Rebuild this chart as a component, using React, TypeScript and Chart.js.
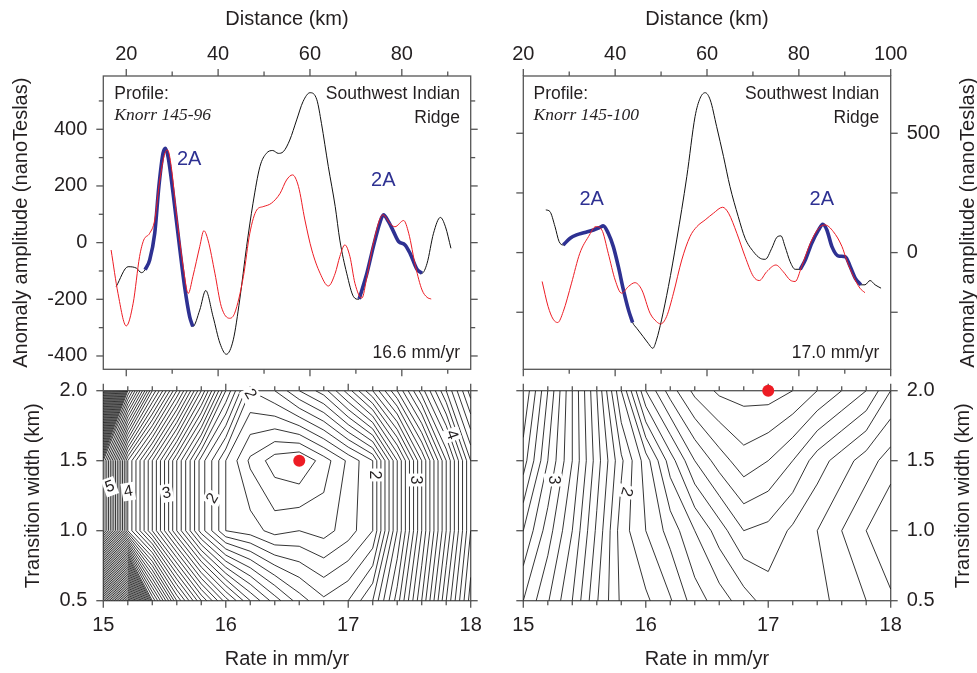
import React, { useEffect, useRef } from "react";
import { Chart, registerables } from "chart.js";
Chart.register(...registerables);

const W = 977;
const H = 673;
const FONT = '"Liberation Sans", Arial, Helvetica, sans-serif';
const SERIF = '"Liberation Serif", "Times New Roman", serif';
const INK = "#231f20";
const BORDER = "#555555";
const RED = "rgb(237,28,36)";
const BLUE = "rgb(46,49,146)";

// ---------------- Profile Knorr 145-96 (top left) ----------------
const tlObsKm = [17.8, 20.4, 22.2, 23.3, 24.1, 25.1, 26.2, 27.1, 28.0, 28.5, 29.1, 30.2, 31.6, 32.7, 33.8, 34.5, 36.0, 37.3, 38.9, 40.4, 41.8, 43.3, 44.7, 46.2, 47.6, 49.1, 50.5, 51.9, 53.1, 54.2, 55.6, 57.1, 58.5, 60.0, 61.5, 62.5, 64.0, 65.5, 66.5, 68.0, 69.5, 70.6, 72.4, 73.8, 75.3, 76.0, 77.1, 78.2, 79.3, 80.7, 81.8, 83.3, 84.4, 85.5, 86.9, 88.4, 89.5, 90.7];
const tlObsNT = [-155, -85, -90, -106, -96, -61, 33, 198, 315, 333, 303, 174, -14, -155, -261, -296, -238, -169, -261, -355, -394, -343, -202, -14, 139, 268, 315, 325, 315, 321, 362, 433, 498, 529, 504, 421, 268, 127, 9, -108, -191, -200, -108, -14, 74, 98, 74, 39, 4, -8, -38, -94, -108, -73, 33, 89, 56, -20];
const tlSynKm = [16.7, 18.2, 20.0, 21.5, 22.9, 23.8, 25.1, 26.2, 27.3, 28.4, 29.0, 29.8, 30.9, 32.4, 33.5, 34.5, 36.0, 36.9, 37.8, 39.3, 40.7, 42.5, 43.6, 45.5, 46.9, 48.4, 49.8, 51.6, 53.5, 54.9, 56.2, 57.5, 58.9, 60.4, 62.2, 64.0, 65.5, 66.5, 67.6, 68.7, 69.8, 71.3, 72.4, 73.8, 75.9, 77.5, 78.5, 80.4, 81.5, 83.0, 84.4, 85.5, 86.4];
const tlSynNT = [-26, -179, -294, -214, -49, 9, 33, 80, 221, 315, 327, 268, 104, -85, -179, -120, -14, 42, 9, -108, -226, -267, -249, -120, 33, 115, 127, 139, 174, 221, 239, 198, 80, -26, -108, -153, -108, -49, -8, -49, -144, -196, -120, -2, 98, 66, 56, 78, 33, -85, -167, -193, -199];
const tlFitAKm = [24.1, 25.1, 26.2, 27.1, 28.0, 28.5, 29.1, 30.2, 31.6, 32.7, 33.8, 34.5];
const tlFitANT = [-96, -61, 33, 198, 315, 333, 303, 174, -14, -155, -261, -296];
const tlFitBKm = [70.7, 72.4, 73.8, 75.3, 76.0, 77.1, 78.2, 79.3, 80.7, 81.8, 83.3, 84.4];
const tlFitBNT = [-199, -108, -14, 74, 98, 74, 39, 4, -8, -38, -94, -108];

// ---------------- Profile Knorr 145-100 (top right) ----------------
const trObsKm = [24.9, 25.8, 26.9, 27.8, 28.7, 30.2, 31.6, 33.4, 35.3, 36.7, 37.4, 38.5, 39.6, 40.7, 41.8, 42.9, 43.8, 44.7, 46.1, 47.2, 48.2, 49.0, 50.1, 51.6, 53.4, 55.6, 57.4, 58.5, 59.6, 60.7, 62.1, 63.6, 65.0, 66.8, 68.3, 70.1, 71.6, 72.7, 74.1, 75.2, 76.1, 77.0, 78.1, 79.2, 80.3, 81.4, 82.8, 84.3, 85.2, 86.1, 87.2, 88.6, 90.1, 91.2, 92.3, 93.5, 94.4, 95.5, 96.6, 97.9];
const trObsNT = [179, 172, 109, 46, 32, 60, 74, 84, 95, 106, 112, 81, 25, -59, -156, -240, -293, -317, -352, -380, -401, -366, -282, -142, 53, 318, 570, 647, 670, 640, 528, 402, 277, 151, 60, 4, -24, -28, 18, 64, 70, 25, -38, -70, -70, -31, 39, 95, 119, 95, 25, -14, -17, -59, -108, -135, -135, -117, -135, -149];
const trSynKm = [24.1, 25.4, 26.5, 27.5, 28.7, 30.5, 32.3, 34.2, 35.8, 37.1, 38.5, 40.0, 41.4, 42.9, 44.3, 45.8, 47.6, 49.0, 49.9, 51.2, 52.7, 54.5, 56.3, 57.8, 59.6, 61.4, 63.4, 64.7, 66.5, 68.3, 70.1, 71.4, 73.0, 75.0, 76.6, 78.1, 79.2, 80.6, 82.5, 84.3, 85.7, 87.5, 89.4, 90.4, 91.9, 93.3, 94.4];
const trSynNT = [-121, -226, -279, -293, -247, -128, -3, 67, 109, 95, -3, -115, -170, -142, -126, -156, -254, -289, -299, -268, -170, -31, 67, 109, 137, 165, 190, 165, 81, -17, -100, -117, -80, -52, -80, -115, -121, -59, 39, 102, 116, 88, 25, -31, -100, -149, -168];
const trFitAKm = [28.7, 30.2, 31.6, 33.4, 35.3, 36.7, 37.4, 38.5, 39.6, 40.7, 41.8, 42.9, 43.8];
const trFitANT = [32, 60, 74, 84, 95, 106, 112, 81, 25, -59, -156, -240, -293];
const trFitBKm = [80.3, 81.4, 82.8, 84.3, 85.2, 86.1, 87.2, 88.6, 90.1, 91.2, 92.3, 93.5];
const trFitBNT = [-70, -31, 39, 95, 119, 95, 25, -14, -17, -59, -108, -135];

// ---------------- Misfit grids (rate x transition width) ----------------
const rates = [15.0, 15.2, 15.4, 15.6, 15.8, 16.0, 16.2, 16.4, 16.6, 16.8, 17.0, 17.2, 17.4, 17.6, 17.8, 18.0];
const widths = [0.5, 1.0, 1.5, 2.0];
const misfitL_w05 = [8.5, 7.0, 5.0, 4.1, 3.5, 3.05, 2.7, 2.45, 2.25, 2.12, 2.2, 2.4, 2.85, 3.4, 4.0, 4.55];
const misfitL_w10 = [5.4, 4.0, 3.4, 2.8, 2.25, 1.9, 1.85, 1.76, 1.8, 1.76, 1.85, 2.0, 2.6, 3.2, 3.8, 4.4];
const misfitL_w15 = [5.4, 4.0, 3.4, 2.8, 2.25, 1.9, 1.68, 1.55, 1.5, 1.65, 1.82, 2.0, 2.6, 3.2, 3.8, 4.4];
const misfitL_w20 = [8.0, 5.6, 4.6, 3.9, 3.2, 2.5, 2.0, 2.1, 2.3, 2.45, 2.75, 3.1, 3.5, 3.95, 4.4, 4.85];
const misfitR_w05 = [3.0, 2.81, 2.6, 2.31, 2.08, 2.02, 1.91, 1.75, 1.65, 1.55, 1.45, 1.45, 1.47, 1.53, 1.6, 1.68];
const misfitR_w10 = [3.2, 2.95, 2.7, 2.38, 2.05, 1.9, 1.76, 1.6, 1.45, 1.3, 1.33, 1.42, 1.5, 1.6, 1.7, 1.8];
const misfitR_w15 = [3.45, 3.1, 2.8, 2.45, 2.12, 1.85, 1.55, 1.3, 1.15, 1.04, 1.1, 1.2, 1.35, 1.45, 1.55, 1.65];
const misfitR_w20 = [3.6, 3.2, 2.8, 2.4, 1.9, 1.4, 1.15, 0.97, 0.88, 0.86, 0.85, 0.9, 1.0, 1.1, 1.2, 1.4];
const contourStep = 0.1;
const bestL = { rate: 16.6, width: 1.5 };
const bestR = { rate: 17.0, width: 2.0 };
const labelsLText = ["5", "4", "3", "2", "2", "2", "3", "4"];
const labelsLRate = [15.055, 15.204, 15.517, 15.893, 16.198, 17.212, 17.545, 17.844];
const labelsLWidth = [1.314, 1.279, 1.267, 1.231, 1.975, 1.398, 1.362, 1.684];
const labelsRText = ["3", "2"];
const labelsRRate = [15.242, 15.841];
const labelsRWidth = [1.362, 1.279];

type Pt = { x: number; y: number | null };

function xy(xs: number[], ys: number[]): Pt[] {
  return xs.map((x, i) => ({ x, y: ys[i] }));
}

function contourPoints(grid: number[][], xs: number[], ys: number[], step: number): Pt[] {
  let lo = Infinity;
  let hi = -Infinity;
  grid.forEach((r) => r.forEach((v) => { lo = Math.min(lo, v); hi = Math.max(hi, v); }));
  const pts: Pt[] = [];
  for (let k = Math.ceil(lo / step); k * step <= hi + 1e-9; k++) {
    const L = k * step + 1e-7;
    for (let j = 0; j < ys.length - 1; j++) {
      for (let i = 0; i < xs.length - 1; i++) {
        const a = grid[j][i], b = grid[j][i + 1], c = grid[j + 1][i + 1], d = grid[j + 1][i];
        const x0 = xs[i], x1 = xs[i + 1], y0 = ys[j], y1 = ys[j + 1];
        const cr = (p: number, q: number) => (p > L) !== (q > L);
        const t = (p: number, q: number) => (L - p) / (q - p);
        const B = cr(a, b) ? { x: x0 + (x1 - x0) * t(a, b), y: y0 } : null;
        const R = cr(b, c) ? { x: x1, y: y0 + (y1 - y0) * t(b, c) } : null;
        const T = cr(d, c) ? { x: x0 + (x1 - x0) * t(d, c), y: y1 } : null;
        const Lf = cr(a, d) ? { x: x0, y: y0 + (y1 - y0) * t(a, d) } : null;
        const e = [B, R, T, Lf].filter(Boolean) as Pt[];
        const segs: Pt[][] = [];
        if (e.length === 2) segs.push([e[0], e[1]]);
        else if (e.length === 4) {
          const ctr = (a + b + c + d) / 4;
          if ((ctr > L) === (a > L)) segs.push([B!, R!], [T!, Lf!]);
          else segs.push([B!, Lf!], [R!, T!]);
        }
        segs.forEach(([p, q]) => { pts.push(p, q, { x: q.x, y: null }); });
      }
    }
  }
  return pts;
}

type Side = "top" | "bottom" | "left" | "right";
interface AxisSpec { side: Side; major: number[]; minor?: number[]; labels?: number[]; digits?: number }
interface TextSpec { text: string; x: number; y: number; align?: CanvasTextAlign; font: string; color?: string; rot?: number; data?: boolean; box?: boolean }
interface FrameSpec { axes: AxisSpec[]; texts: TextSpec[]; overTexts?: TextSpec[] }

function drawText(ctx: CanvasRenderingContext2D, chart: any, t: TextSpec) {
  let x = t.x, y = t.y;
  if (t.data) {
    x = chart.scales.x.getPixelForValue(t.x);
    y = chart.scales.y.getPixelForValue(t.y);
  }
  ctx.save();
  ctx.translate(x, y);
  if (t.rot) ctx.rotate((t.rot * Math.PI) / 180);
  ctx.font = t.font;
  ctx.textAlign = t.align || "center";
  ctx.textBaseline = "middle";
  if (t.box) {
    const w = ctx.measureText(t.text).width + 4;
    ctx.fillStyle = "#ffffff";
    ctx.fillRect(-w / 2, -9, w, 18);
  }
  ctx.fillStyle = t.color || INK;
  ctx.fillText(t.text, 0, 0);
  ctx.restore();
}

function framePlugin(spec: FrameSpec) {
  return {
    id: "frame",
    beforeDatasetsDraw(chart: any) {
      const { ctx, chartArea: a, scales } = chart;
      ctx.save();
      ctx.strokeStyle = BORDER;
      ctx.lineWidth = 1.3;
      ctx.strokeRect(a.left, a.top, a.right - a.left, a.bottom - a.top);
      for (const ax of spec.axes) {
        const horiz = ax.side === "top" || ax.side === "bottom";
        const sc = horiz ? scales.x : scales.y;
        const tick = (v: number, len: number) => {
          const p = sc.getPixelForValue(v);
          ctx.beginPath();
          if (ax.side === "top") { ctx.moveTo(p, a.top); ctx.lineTo(p, a.top - len); }
          if (ax.side === "bottom") { ctx.moveTo(p, a.bottom); ctx.lineTo(p, a.bottom + len); }
          if (ax.side === "left") { ctx.moveTo(a.left, p); ctx.lineTo(a.left - len, p); }
          if (ax.side === "right") { ctx.moveTo(a.right, p); ctx.lineTo(a.right + len, p); }
          ctx.stroke();
        };
        ax.major.forEach((v) => tick(v, 7));
        (ax.minor || []).forEach((v) => tick(v, 4.5));
        if (ax.labels) {
          ctx.fillStyle = INK;
          ctx.font = `20px ${FONT}`;
          ctx.textBaseline = "middle";
          ax.labels.forEach((v) => {
            const p = sc.getPixelForValue(v);
            const s = v.toFixed(ax.digits || 0);
            if (ax.side === "top") { ctx.textAlign = "center"; ctx.fillText(s, p, a.top - 22); }
            if (ax.side === "bottom") { ctx.textAlign = "center"; ctx.fillText(s, p, a.bottom + 24.5); }
            if (ax.side === "left") { ctx.textAlign = "right"; ctx.fillText(s, a.left - 16, p); }
            if (ax.side === "right") { ctx.textAlign = "left"; ctx.fillText(s, a.right + 16, p); }
          });
        }
      }
      ctx.restore();
      spec.texts.forEach((t) => drawText(ctx, chart, t));
    },
    afterDatasetsDraw(chart: any) {
      (spec.overTexts || []).forEach((t) => drawText(chart.ctx, chart, t));
    },
  };
}

function range(a: number, b: number, s: number): number[] {
  const out: number[] = [];
  for (let v = a; v <= b + 1e-9; v += s) out.push(Math.round(v * 1000) / 1000);
  return out;
}

function baseOptions(pad: { left: number; top: number; right: number; bottom: number }, xr: number[], yr: number[]) {
  return {
    responsive: false,
    animation: false as const,
    events: [] as any[],
    layout: { padding: pad },
    plugins: { legend: { display: false }, tooltip: { enabled: false } },
    scales: {
      x: { type: "linear" as const, display: false, min: xr[0], max: xr[1] },
      y: { type: "linear" as const, display: false, min: yr[0], max: yr[1] },
    },
  };
}

const lineDs = (data: Pt[], color: string, width: number) => ({
  type: "line" as const,
  data,
  borderColor: color,
  borderWidth: width,
  pointRadius: 0,
  fill: false,
  cubicInterpolationMode: "monotone" as const,
});

const TOP_PAD = { top: 76, bottom: H - 369.3 };
const BOT_PAD = { top: 390.7, bottom: H - 600.7 };
const LEFT_PAD = { left: 103.3, right: W - 470.7 };
const RIGHT_PAD = { left: 523.3, right: W - 890.7 };

function profileConfig(which: "L" | "R"): any {
  const isL = which === "L";
  const datasets = isL
    ? [
        lineDs(xy(tlSynKm, tlSynNT), RED, 1),
        lineDs(xy(tlFitAKm, tlFitANT), BLUE, 3.6),
        lineDs(xy(tlFitBKm, tlFitBNT), BLUE, 3.6),
        lineDs(xy(tlObsKm, tlObsNT), "#111111", 1),
      ]
    : [
        lineDs(xy(trSynKm, trSynNT), RED, 1),
        lineDs(xy(trFitAKm, trFitANT), BLUE, 3.6),
        lineDs(xy(trFitBKm, trFitBNT), BLUE, 3.6),
        lineDs(xy(trObsKm, trObsNT), "#111111", 1),
      ];
  const pad = isL ? { ...LEFT_PAD, ...TOP_PAD } : { ...RIGHT_PAD, ...TOP_PAD };
  const xr = isL ? [15, 95] : [20, 100];
  const yr = isL ? [-447, 588] : [-489, 740];
  const dx = isL ? 0 : 419.3;
  const small = `17.5px ${FONT}`;
  const big = `20px ${FONT}`;
  const spec: FrameSpec = isL
    ? {
        axes: [
          { side: "top", major: [20, 40, 60, 80], minor: [30, 50, 70, 90], labels: [20, 40, 60, 80] },
          { side: "bottom", major: [20, 40, 60, 80], minor: [30, 50, 70, 90] },
          { side: "left", major: [-400, -200, 0, 200, 400], minor: [-300, -100, 100, 300, 500], labels: [-400, -200, 0, 200, 400] },
          { side: "right", major: [-400, -200, 0, 200, 400], minor: [-300, -100, 100, 300, 500] },
        ],
        texts: [
          { text: "Distance (km)", x: 287, y: 19, font: big },
          { text: "Anomaly amplitude (nanoTeslas)", x: 21.7, y: 222.7, font: big, rot: -90 },
        ],
        overTexts: [],
      }
    : {
        axes: [
          { side: "top", major: [20, 40, 60, 80, 100], minor: [30, 50, 70, 90], labels: [20, 40, 60, 80, 100] },
          { side: "bottom", major: [20, 40, 60, 80, 100], minor: [30, 50, 70, 90] },
          { side: "left", major: [-250, 0, 250, 500] },
          { side: "right", major: [-250, 0, 250, 500], labels: [0, 500] },
        ],
        texts: [
          { text: "Distance (km)", x: 707, y: 19, font: big },
          { text: "Anomaly amplitude (nanoTeslas)", x: 968.3, y: 222.7, font: big, rot: -90 },
        ],
        overTexts: [],
      };
  spec.texts.push(
    { text: "Profile:", x: 114.3 + dx, y: 94, align: "left", font: small },
    { text: isL ? "Knorr 145-96" : "Knorr 145-100", x: 114.3 + dx, y: 115, align: "left", font: `italic 17.5px ${SERIF}` },
    { text: "Southwest Indian", x: 460 + dx, y: 94, align: "right", font: small },
    { text: "Ridge", x: 460 + dx, y: 118.5, align: "right", font: small },
    { text: isL ? "16.6 mm/yr" : "17.0 mm/yr", x: 460 + dx, y: 353.5, align: "right", font: small },
  );
  const twoA = isL ? [[33.7, 294], [75.97, 221]] : [[34.9, 223.5], [85.0, 223.5]];
  twoA.forEach(([x, y]) => spec.overTexts!.push({ text: "2A", x, y, data: true, font: big, color: BLUE }));
  return {
    type: "line",
    data: { datasets },
    options: baseOptions(pad, xr, yr),
    plugins: [framePlugin(spec)],
  };
}

function contourConfig(which: "L" | "R"): any {
  const isL = which === "L";
  const grid = isL
    ? [misfitL_w05, misfitL_w10, misfitL_w15, misfitL_w20]
    : [misfitR_w05, misfitR_w10, misfitR_w15, misfitR_w20];
  const best = isL ? bestL : bestR;
  const datasets: any[] = [
    {
      type: "scatter",
      data: [{ x: best.rate, y: best.width }],
      pointRadius: 6,
      pointBackgroundColor: RED,
      pointBorderWidth: 0,
      showLine: false,
      clip: false,
    },
    {
      type: "line",
      data: contourPoints(grid, rates, widths, contourStep),
      borderColor: "#000000",
      borderWidth: 0.8,
      pointRadius: 0,
      tension: 0,
      spanGaps: false,
      fill: false,
    },
  ];
  const pad = isL ? { ...LEFT_PAD, ...BOT_PAD } : { ...RIGHT_PAD, ...BOT_PAD };
  const big = `20px ${FONT}`;
  const lab = `16px ${FONT}`;
  const xs = range(15, 18, 0.2);
  const minor = xs.filter((v) => Math.abs(v - Math.round(v)) > 1e-6);
  const major = [15, 16, 17, 18];
  const ws = [0.5, 1.0, 1.5, 2.0];
  const spec: FrameSpec = {
    axes: [
      { side: "bottom", major, minor, labels: major },
      { side: "top", major, minor },
      { side: "left", major: ws, labels: isL ? ws : undefined, digits: 1 },
      { side: "right", major: ws, labels: isL ? undefined : ws, digits: 1 },
    ],
    texts: [
      { text: "Rate in mm/yr", x: isL ? 287 : 707, y: 659.3, font: big },
      { text: "Transition width (km)", x: isL ? 33.3 : 963.3, y: 495.7, font: big, rot: -90 },
    ],
    overTexts: [],
  };
  const lt = isL ? labelsLText : labelsRText;
  const lr = isL ? labelsLRate : labelsRRate;
  const lw = isL ? labelsLWidth : labelsRWidth;
  const rots = isL ? [-20, -10, -10, -60, 60, 90, 90, 70] : [90, 105];
  lt.forEach((t, i) => spec.overTexts!.push({ text: t, x: lr[i], y: lw[i], data: true, font: lab, rot: rots[i], box: true }));
  return {
    type: "line",
    data: { datasets },
    options: baseOptions(pad, [15, 18], [0.5, 2.0]),
    plugins: [framePlugin(spec)],
  };
}

export default function App() {
  const r1 = useRef<HTMLCanvasElement>(null);
  const r2 = useRef<HTMLCanvasElement>(null);
  const r3 = useRef<HTMLCanvasElement>(null);
  const r4 = useRef<HTMLCanvasElement>(null);
  useEffect(() => {
    const charts = [
      new Chart(r1.current!, profileConfig("L")),
      new Chart(r2.current!, profileConfig("R")),
      new Chart(r3.current!, contourConfig("L")),
      new Chart(r4.current!, contourConfig("R")),
    ];
    return () => charts.forEach((c) => c.destroy());
  }, []);
  const st: React.CSSProperties = { position: "absolute", left: 0, top: 0, width: W, height: H };
  return (
    <div style={{ position: "absolute", left: 0, top: 0, width: W, height: H, background: "#ffffff" }}>
      {[r1, r2, r3, r4].map((r, i) => (
        <canvas key={i} ref={r} width={W} height={H} style={st} />
      ))}
    </div>
  );
}
